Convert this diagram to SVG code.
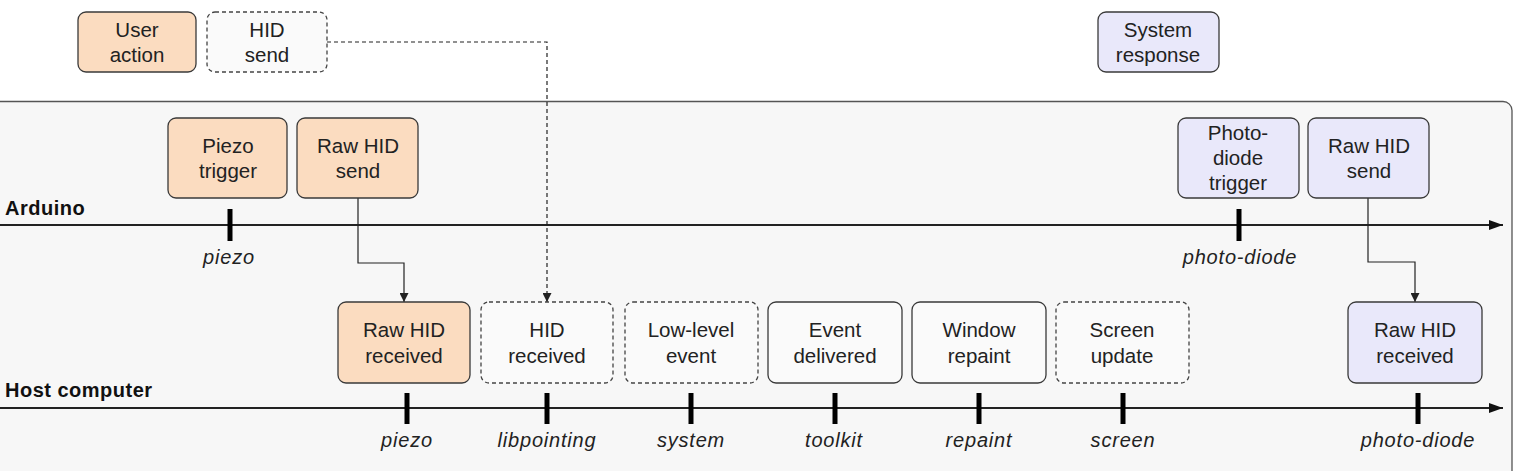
<svg xmlns="http://www.w3.org/2000/svg" width="1516" height="471" viewBox="0 0 1516 471">
<style>
.box{stroke:#3a3a3a;stroke-width:1.3}
.or{fill:#fbdcc0}
.pu{fill:#e9e8fa}
.wh{fill:#fafafa}
.da{stroke-dasharray:4 3;stroke:#444}
.t{font-family:"Liberation Sans",Arial,sans-serif;font-size:20.5px;fill:#222;text-anchor:middle}
.lab{font-family:"Liberation Sans",Arial,sans-serif;font-size:20px;letter-spacing:0.8px;font-style:italic;fill:#222;text-anchor:middle}
.hd{font-family:"Liberation Sans",Arial,sans-serif;font-size:20px;letter-spacing:0.5px;font-weight:bold;fill:#111}
.axis{stroke:#222;stroke-width:2;fill:none}
.tick{stroke:#000;stroke-width:5}
.con{fill:none;stroke:#222;stroke-width:1.2}
</style>
<defs>
<marker id="ah" viewBox="0 0 10 10" refX="10" refY="5" markerWidth="9" markerHeight="9" markerUnits="userSpaceOnUse" orient="auto"><path d="M0,0 L10,5 L0,10 z" fill="#222"/></marker>
<marker id="axh" viewBox="0 0 14 10" refX="14" refY="5" markerWidth="14" markerHeight="10" markerUnits="userSpaceOnUse" orient="auto"><path d="M0,0 L14,5 L0,10 z" fill="#111"/></marker>
</defs>
<rect id="panel" x="-10" y="101.5" width="1522" height="380" rx="9" fill="#f7f7f7" stroke="#555" stroke-width="1.3"/>
<g id="axes">
<line class="axis" x1="0" y1="225" x2="1503" y2="225" marker-end="url(#axh)"/>
<line class="axis" x1="0" y1="408" x2="1503" y2="408" marker-end="url(#axh)"/>
<text class="hd" x="5" y="215">Arduino</text>
<text class="hd" x="5" y="397">Host computer</text>
</g>
<g id="ticks">
<line class="tick" x1="230" y1="209" x2="230" y2="241"/>
<line class="tick" x1="1239" y1="209" x2="1239" y2="241"/>
<line class="tick" x1="407" y1="393" x2="407" y2="424"/>
<line class="tick" x1="547" y1="393" x2="547" y2="424"/>
<line class="tick" x1="691" y1="393" x2="691" y2="424"/>
<line class="tick" x1="835" y1="393" x2="835" y2="424"/>
<line class="tick" x1="979" y1="393" x2="979" y2="424"/>
<line class="tick" x1="1123" y1="393" x2="1123" y2="424"/>
<line class="tick" x1="1418" y1="393" x2="1418" y2="424"/>
</g>
<g id="tick-labels">
<text class="lab" x="229" y="264">piezo</text>
<text class="lab" x="1240" y="264">photo-diode</text>
<text class="lab" x="407" y="447">piezo</text>
<text class="lab" x="547" y="447">libpointing</text>
<text class="lab" x="691" y="447">system</text>
<text class="lab" x="834" y="447">toolkit</text>
<text class="lab" x="979" y="447">repaint</text>
<text class="lab" x="1123" y="447">screen</text>
<text class="lab" x="1418" y="447">photo-diode</text>
</g>
<g id="connectors">
<path class="con" d="M358,198 V263 H404 V302" marker-end="url(#ah)"/>
<path class="con" d="M1368,198 V262 H1415 V302" marker-end="url(#ah)"/>
<path class="con" d="M327,42 H547 V302" stroke-dasharray="4 3" marker-end="url(#ah)"/>
</g>
<g id="user-action"><rect class="box or" x="78" y="12" width="118" height="60" rx="8"/><text class="t" x="137" y="37">User</text><text class="t" x="137" y="62">action</text></g>
<g id="hid-send"><rect class="box wh da" x="207" y="12" width="120" height="60" rx="8"/><text class="t" x="267" y="37">HID</text><text class="t" x="267" y="62">send</text></g>
<g id="system-response"><rect class="box pu" x="1098" y="12" width="121" height="60" rx="8"/><text class="t" x="1158" y="37">System</text><text class="t" x="1158" y="62">response</text></g>
<g id="piezo-trigger"><rect class="box or" x="168" y="118" width="119" height="80" rx="8"/><text class="t" x="228" y="153">Piezo</text><text class="t" x="228" y="178">trigger</text></g>
<g id="raw-hid-send-1"><rect class="box or" x="297" y="118" width="121" height="80" rx="8"/><text class="t" x="358" y="153">Raw HID</text><text class="t" x="358" y="178">send</text></g>
<g id="photodiode-trigger"><rect class="box pu" x="1178" y="118" width="121" height="80" rx="8"/><text class="t" x="1238" y="140">Photo-</text><text class="t" x="1238" y="165">diode</text><text class="t" x="1238" y="190">trigger</text></g>
<g id="raw-hid-send-2"><rect class="box pu" x="1308" y="118" width="121" height="80" rx="8"/><text class="t" x="1369" y="153">Raw HID</text><text class="t" x="1369" y="178">send</text></g>
<g id="raw-hid-received-1"><rect class="box or" x="338" y="302" width="132" height="81" rx="8"/><text class="t" x="404" y="337">Raw HID</text><text class="t" x="404" y="363">received</text></g>
<g id="hid-received"><rect class="box wh da" x="481" y="302" width="132" height="81" rx="8"/><text class="t" x="547" y="337">HID</text><text class="t" x="547" y="363">received</text></g>
<g id="low-level-event"><rect class="box wh da" x="625" y="302" width="133" height="81" rx="8"/><text class="t" x="691" y="337">Low-level</text><text class="t" x="691" y="363">event</text></g>
<g id="event-delivered"><rect class="box wh" x="768" y="302" width="134" height="81" rx="8"/><text class="t" x="835" y="337">Event</text><text class="t" x="835" y="363">delivered</text></g>
<g id="window-repaint"><rect class="box wh" x="912" y="302" width="134" height="81" rx="8"/><text class="t" x="979" y="337">Window</text><text class="t" x="979" y="363">repaint</text></g>
<g id="screen-update"><rect class="box wh da" x="1056" y="302" width="133" height="81" rx="8"/><text class="t" x="1122" y="337">Screen</text><text class="t" x="1122" y="363">update</text></g>
<g id="raw-hid-received-2"><rect class="box pu" x="1348" y="302" width="134" height="81" rx="8"/><text class="t" x="1415" y="337">Raw HID</text><text class="t" x="1415" y="363">received</text></g>
</svg>
